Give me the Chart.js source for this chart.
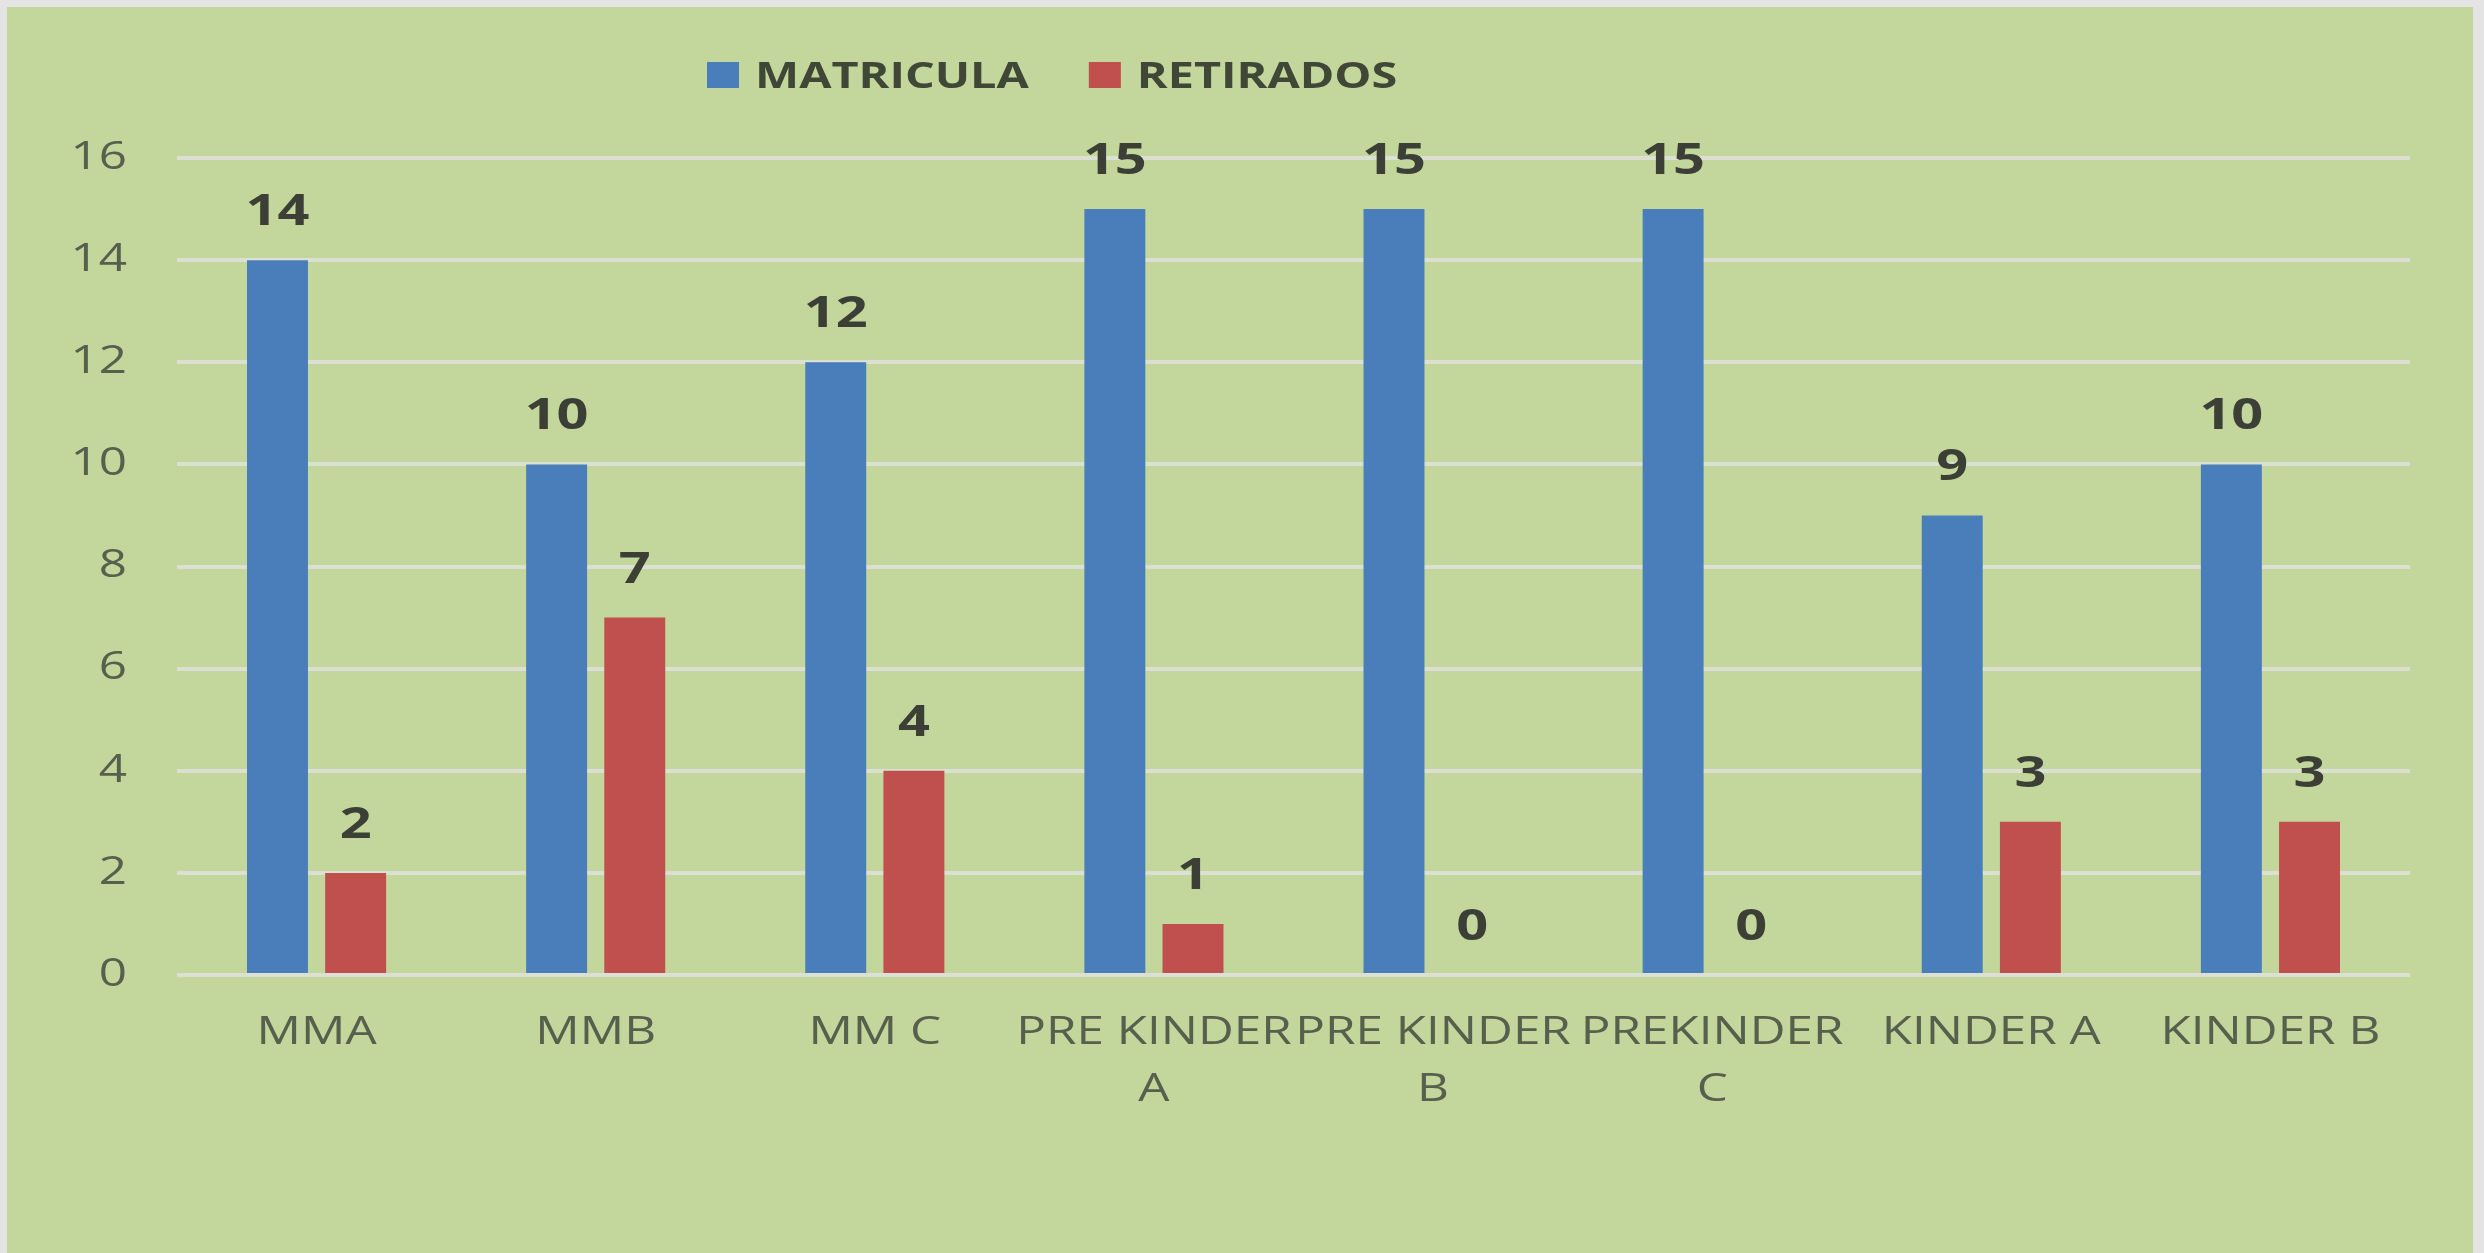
<!DOCTYPE html>
<html>
<head>
<meta charset="utf-8">
<script src="https://cdn.jsdelivr.net/npm/chart.js@4.4.1/dist/chart.umd.min.js"></script>
<style>
    html, body { margin: 0; padding: 0; background: #e4e4e4; }
    #panel { position: absolute; left: 7px; top: 7px; width: 2466px; height: 1246px; background: #c3d69b; }
    #wrap { position: absolute; left: 0; top: 0; width: 2484px; height: 1253px; }
</style>
</head>
<body>
<div id="panel"></div>
<div id="wrap"><canvas id="chart" width="2484" height="1253"></canvas></div>
<script>
// Data
const categories = ['MMA', 'MMB', 'MM C', ['PRE KINDER', 'A'], ['PRE KINDER', 'B'], ['PREKINDER', 'C'], 'KINDER A', 'KINDER B'];
const matricula = [14, 10, 12, 15, 15, 15, 9, 10];
const retirados = [2, 7, 4, 1, 0, 0, 3, 3];
const yMax = 16;
const yStep = 2;

const tickColor = '#55604d';
const stretch = 1.3; // the source picture is stretched sideways

// draw text stretched horizontally
function drawText(ctx, text, x, y, sx, align) {
    ctx.save();
    ctx.translate(x, y);
    ctx.scale(sx, 1);
    ctx.textAlign = align;
    ctx.fillText(text, 0, 0);
    ctx.restore();
}

const textPlugin = {
    id: 'textPlugin',
    afterDraw(chart) {
        const ctx = chart.ctx;
        const xs = chart.scales.x;
        const ys = chart.scales.y;

        // y tick labels
        ctx.fillStyle = tickColor;
        ctx.font = '38px "Open Sans"';
        ctx.textBaseline = 'middle';
        ys.ticks.forEach((t, i) => {
            drawText(ctx, String(t.value), chart.chartArea.left - 50, ys.getPixelForTick(i), stretch, 'right');
        });

        // x tick labels
        xs.ticks.forEach((t, i) => {
            const lab = categories[i];
            const lines = Array.isArray(lab) ? lab : [lab];
            lines.forEach((line, j) => {
                drawText(ctx, line, xs.getPixelForTick(i), chart.chartArea.bottom + 58 + j * 57, stretch, 'center');
            });
        });

        // data labels
        ctx.fillStyle = '#3b3f36';
        ctx.font = 'bold 43px "Open Sans"';
        ctx.textBaseline = 'alphabetic';
        chart.data.datasets.forEach((ds, di) => {
            chart.getDatasetMeta(di).data.forEach((bar, i) => {
                drawText(ctx, String(ds.data[i]), bar.x, bar.y - 35, stretch, 'center');
            });
        });

        // legend
        let x = 707;
        ctx.font = 'bold 36px "Open Sans"';
        ctx.textBaseline = 'alphabetic';
        chart.data.datasets.forEach(ds => {
            ctx.fillStyle = ds.backgroundColor;
            ctx.fillRect(x, 62, 32, 26);
            ctx.fillStyle = '#3f4836';
            drawText(ctx, ds.label, x + 48, 88, stretch, 'left');
            x += 48 + ctx.measureText(ds.label).width * stretch + 60;
        });
    }
};

new Chart(document.getElementById('chart').getContext('2d'), {
    type: 'bar',
    data: {
        labels: categories,
        datasets: [
            { label: 'MATRICULA', data: matricula, backgroundColor: '#4a7ebb' },
            { label: 'RETIRADOS', data: retirados, backgroundColor: '#c0504d' },
        ],
    },
    options: {
        responsive: false,
        animation: false,
        devicePixelRatio: 1,
        categoryPercentage: 0.56,
        barPercentage: 0.78,
        layout: { padding: { left: 0, right: 74, top: 158, bottom: 138 } },
        plugins: {
            legend: { display: false },
            tooltip: { enabled: false },
        },
        scales: {
            x: {
                grid: { display: false },
                border: { display: false },
                ticks: { color: 'rgba(0,0,0,0)', font: { size: 38 }, maxRotation: 0, autoSkip: false },
                afterFit: s => { s.height = 140; },
            },
            y: {
                min: 0,
                max: yMax,
                border: { display: false },
                grid: { color: '#dbe0d3', lineWidth: 4, drawTicks: false },
                ticks: { stepSize: yStep, color: 'rgba(0,0,0,0)', font: { size: 38 }, padding: 50 },
                afterFit: s => { s.width = 177; },
            },
        },
    },
    plugins: [textPlugin],
});
</script>
</body>
</html>
